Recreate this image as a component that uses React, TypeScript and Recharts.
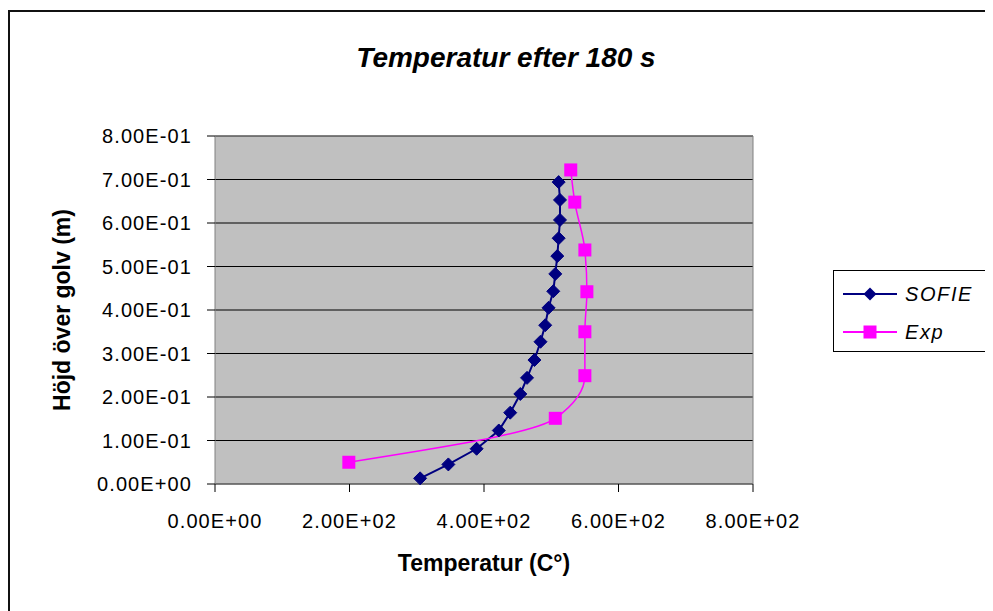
import React from "react";
import {
  ComposedChart,
  Line,
  XAxis,
  YAxis,
  CartesianGrid,
  Legend,
  ReferenceLine,
} from "recharts";

// SOFIE simulation (temperature in C, height in m)
const sofieTemp = [305, 347, 389, 422, 439, 454, 464, 475, 484, 491, 496, 503, 506, 509, 511, 513, 513, 511];
const sofieHeight = [0.013, 0.045, 0.081, 0.123, 0.164, 0.207, 0.244, 0.285, 0.327, 0.365, 0.405, 0.443, 0.483, 0.524, 0.565, 0.607, 0.653, 0.694];

// experiment
const expTemp = [199, 506, 550, 550, 553, 550, 535, 529];
const expHeight = [0.05, 0.151, 0.249, 0.35, 0.442, 0.538, 0.648, 0.722];

const xTicks = [0, 200, 400, 600, 800];
const yTicks = [0, 0.1, 0.2, 0.3, 0.4, 0.5, 0.6, 0.7, 0.8];

const sofieData = sofieTemp.map((t, i) => ({ t, h: sofieHeight[i] }));
const expData = expTemp.map((t, i) => ({ t, h: expHeight[i] }));

const FONT = '"Liberation Sans", Arial, sans-serif';
const NAVY = "#000080";
const MAGENTA = "#FF00FF";

// Excel style 0.00E+00
const fmtExp = (v: number) => {
  if (v === 0) return "0.00E+00";
  const e = Math.floor(Math.log10(Math.abs(v)) + 1e-9);
  const m = v / Math.pow(10, e);
  return `${m.toFixed(2)}E${e < 0 ? "-" : "+"}${String(Math.abs(e)).padStart(2, "0")}`;
};

const tickStyle = { fontFamily: FONT, fontSize: 20, fill: "#000", letterSpacing: 1.1 };

const Diamond = (props: any) => {
  const { cx, cy, index } = props;
  if (cx == null || cy == null) return <g key={index} />;
  const r = 6.5;
  return (
    <polygon
      key={`d${index}`}
      points={`${cx},${cy - r} ${cx + r},${cy} ${cx},${cy + r} ${cx - r},${cy}`}
      fill={NAVY}
      stroke={NAVY}
    />
  );
};

const Square = (props: any) => {
  const { cx, cy, index } = props;
  if (cx == null || cy == null) return <g key={index} />;
  const s = 13;
  return <rect key={`s${index}`} x={cx - s / 2} y={cy - s / 2} width={s} height={s} fill={MAGENTA} />;
};

const renderLegend = () => (
  <div
    style={{
      width: 153,
      height: 80,
      border: "1px solid #000",
      background: "#fff",
      fontFamily: FONT,
      fontStyle: "italic",
      fontSize: 20,
      letterSpacing: 1.6,
      color: "#000",
    }}
  >
    {[
      { name: "SOFIE", color: NAVY, square: false },
      { name: "Exp", color: MAGENTA, square: true },
    ].map((it, i) => (
      <div key={it.name} style={{ display: "flex", alignItems: "center", height: 38, marginTop: i === 0 ? 4 : 0 }}>
        <svg width={72} height={20} style={{ marginLeft: 9 }}>
          <line x1={0} y1={10} x2={54} y2={10} stroke={it.color} strokeWidth={2} />
          {it.square ? (
            <rect x={20.5} y={3.5} width={13} height={13} fill={it.color} />
          ) : (
            <polygon points="27,3.5 33.5,10 27,16.5 20.5,10" fill={it.color} />
          )}
        </svg>
        <span style={{ marginLeft: -10 }}>{it.name}</span>
      </div>
    ))}
  </div>
);

export default function App() {
  return (
    <div
      style={{
        position: "relative",
        top: 2,
        width: 1000,
        height: 620,
        borderTop: "2px solid #111",
        borderLeft: "2px solid #111",
      }}
    >
      <div
        style={{
          position: "absolute",
          left: 0,
          top: 32,
          width: 992,
          textAlign: "center",
          fontFamily: FONT,
          fontSize: 28,
          lineHeight: "28px",
          fontWeight: "bold",
          fontStyle: "italic",
        }}
      >
        Temperatur efter 180 s
      </div>
      <ComposedChart
        width={983}
        height={599}
        layout="vertical"
        margin={{ top: 124, right: 85, bottom: 0, left: 0 }}
      >
        <CartesianGrid fill="#C0C0C0" stroke="#000" vertical={false} />
        <XAxis
          type="number"
          dataKey="t"
          domain={[0, 800]}
          ticks={xTicks}
          tickFormatter={fmtExp}
          height={127}
          tickSize={8}
          tickMargin={22}
          tick={tickStyle}
          axisLine={{ stroke: "#808080" }}
          tickLine={{ stroke: "#000" }}
          label={{
            value: "Temperatur (C°)",
            position: "insideTop",
            offset: 71,
            style: { fontFamily: FONT, fontSize: 23, fontWeight: "bold", fill: "#000" },
          }}
        />
        <YAxis
          type="number"
          dataKey="h"
          domain={[0, 0.8]}
          ticks={yTicks}
          reversed
          tickFormatter={fmtExp}
          width={205}
          tickSize={8}
          tickMargin={15}
          tick={tickStyle}
          axisLine={{ stroke: "#808080" }}
          tickLine={{ stroke: "#000" }}
          label={{
            value: "Höjd över golv (m)",
            angle: -90,
            position: "insideLeft",
            offset: 52,
            style: { fontFamily: FONT, fontSize: 23, fontWeight: "bold", fill: "#000", textAnchor: "middle" },
          }}
        />
        <ReferenceLine y={0.8} stroke="#808080" />
        <ReferenceLine x={800} stroke="#808080" />
        <Legend
          layout="vertical"
          align="right"
          verticalAlign="middle"
          content={renderLegend}
          wrapperStyle={{ left: 823, top: 258, width: 155 }}
        />
        <Line
          data={sofieData}
          dataKey="t"
          name="SOFIE"
          type="linear"
          stroke={NAVY}
          strokeWidth={2}
          dot={Diamond}
          activeDot={false}
          isAnimationActive={false}
        />
        <Line
          data={expData}
          dataKey="t"
          name="Exp"
          type="monotone"
          stroke={MAGENTA}
          strokeWidth={1.5}
          dot={Square}
          activeDot={false}
          isAnimationActive={false}
        />
      </ComposedChart>
    </div>
  );
}
